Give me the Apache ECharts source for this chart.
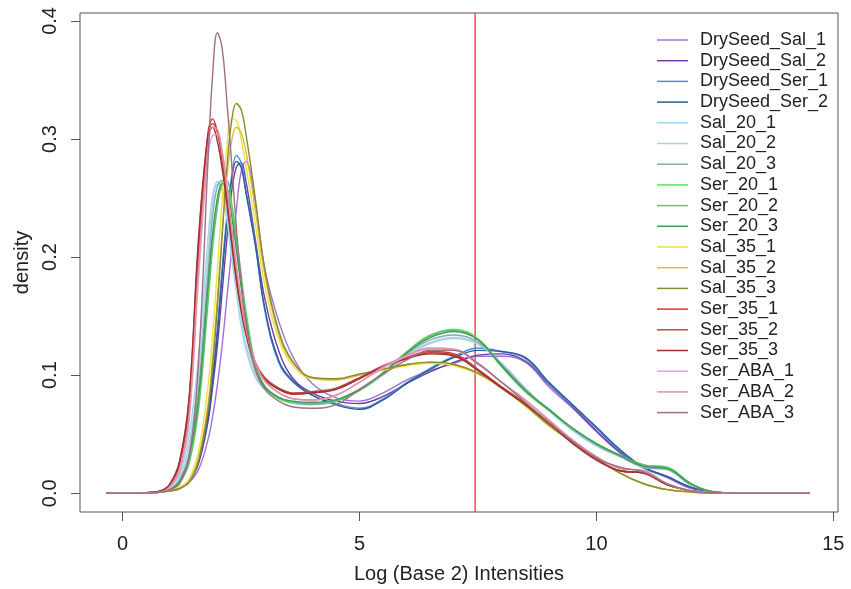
<!DOCTYPE html>
<html>
<head>
<meta charset="utf-8">
<script src="https://cdn.jsdelivr.net/npm/echarts@6/dist/echarts.min.js"></script>
<style>html,body{margin:0;padding:0;background:#fff}#c{width:851px;height:589px}</style>
</head>
<body>
<div id="c"></div>
<script>
// x positions (Log2 intensity) shared by every density curve
const xs = [-0.35,0.5,0.8,1.0,1.2,1.4,1.6,1.8,1.9,2.0,2.1,2.2,2.3,2.4,2.5,2.6,2.8,3.0,3.3,3.6,4.0,4.5,5.0,5.5,6.0,6.5,7.0,7.5,8.0,8.5,9.0,9.5,10.0,10.5,11.0,11.5,12.0,12.5,13.0,14.5];

const seriesNames = ["DrySeed_Sal_1","DrySeed_Sal_2","DrySeed_Ser_1","DrySeed_Ser_2","Sal_20_1","Sal_20_2","Sal_20_3","Ser_20_1","Ser_20_2","Ser_20_3","Sal_35_1","Sal_35_2","Sal_35_3","Ser_35_1","Ser_35_2","Ser_35_3","Ser_ABA_1","Ser_ABA_2","Ser_ABA_3"];
const seriesColors = ["#a070d8","#6a3fa0","#4a8ee0","#2f5a9a","#9ad8f0","#b0d0e0","#8aa8b8","#5ee05e","#5ac86a","#3f9a5a","#f0e040","#d0c040","#8a8a30","#e03030","#b84848","#a03030","#e0a0e8","#e0909a","#a07080"];

const drySeedSal1 = [0,0,0.001,0.002,0.004,0.009,0.02,0.045,0.065,0.092,0.125,0.165,0.205,0.24,0.272,0.281,0.245,0.19,0.145,0.115,0.093,0.081,0.078,0.085,0.096,0.104,0.11,0.116,0.116,0.111,0.09,0.072,0.052,0.034,0.022,0.013,0.004,0.001,0,0];
const drySeedSal2 = [0,0,0.001,0.002,0.004,0.01,0.025,0.06,0.09,0.125,0.17,0.215,0.255,0.276,0.28,0.265,0.215,0.165,0.12,0.097,0.085,0.078,0.076,0.082,0.093,0.103,0.111,0.117,0.118,0.112,0.092,0.073,0.053,0.035,0.022,0.014,0.005,0.001,0,0];
const drySeedSer1 = [0,0,0.001,0.002,0.004,0.01,0.028,0.068,0.1,0.14,0.19,0.235,0.268,0.286,0.28,0.257,0.212,0.155,0.11,0.094,0.083,0.076,0.072,0.08,0.094,0.106,0.116,0.123,0.12,0.114,0.093,0.074,0.055,0.036,0.021,0.014,0.005,0.001,0,0];
const drySeedSer2 = [0,0,0.001,0.002,0.004,0.01,0.026,0.064,0.095,0.135,0.184,0.23,0.265,0.281,0.276,0.255,0.21,0.157,0.112,0.095,0.083,0.075,0.071,0.079,0.093,0.105,0.115,0.121,0.12,0.115,0.094,0.075,0.056,0.037,0.022,0.014,0.005,0.001,0,0];
const sal20_1 = [0,0.0005,0.002,0.005,0.016,0.048,0.115,0.215,0.252,0.264,0.256,0.232,0.2,0.17,0.142,0.122,0.098,0.088,0.08,0.076,0.075,0.078,0.087,0.1,0.116,0.127,0.131,0.126,0.11,0.089,0.07,0.053,0.04,0.031,0.022,0.02,0.007,0.001,0,0];
const sal20_2 = [0,0.0005,0.002,0.004,0.013,0.04,0.1,0.2,0.245,0.262,0.258,0.238,0.208,0.178,0.15,0.127,0.1,0.089,0.081,0.077,0.076,0.079,0.088,0.101,0.117,0.128,0.132,0.127,0.11,0.089,0.07,0.054,0.04,0.031,0.022,0.02,0.007,0.001,0,0];
const sal20_3 = [0,0,0.001,0.003,0.011,0.033,0.088,0.185,0.235,0.26,0.265,0.25,0.222,0.19,0.16,0.135,0.104,0.09,0.081,0.077,0.075,0.078,0.088,0.102,0.118,0.13,0.134,0.128,0.109,0.088,0.07,0.054,0.041,0.031,0.022,0.02,0.007,0.001,0,0];
const ser20_1 = [0,0,0.001,0.003,0.01,0.027,0.075,0.17,0.215,0.247,0.263,0.26,0.24,0.212,0.18,0.15,0.107,0.09,0.08,0.077,0.076,0.078,0.087,0.101,0.119,0.133,0.139,0.131,0.108,0.087,0.071,0.055,0.042,0.032,0.024,0.022,0.008,0.001,0,0];
const ser20_2 = [0,0,0.001,0.003,0.009,0.025,0.07,0.16,0.208,0.242,0.262,0.264,0.246,0.218,0.186,0.155,0.11,0.091,0.081,0.077,0.076,0.078,0.087,0.102,0.12,0.134,0.138,0.13,0.107,0.086,0.07,0.055,0.042,0.032,0.024,0.021,0.008,0.001,0,0];
const ser20_3 = [0,0,0.001,0.003,0.01,0.03,0.08,0.175,0.22,0.25,0.262,0.256,0.235,0.206,0.175,0.147,0.106,0.09,0.081,0.078,0.077,0.079,0.088,0.102,0.119,0.132,0.137,0.13,0.108,0.087,0.071,0.055,0.042,0.032,0.023,0.021,0.008,0.001,0,0];
const sal35_1 = [0,0,0.001,0.002,0.005,0.012,0.035,0.09,0.135,0.19,0.248,0.293,0.317,0.316,0.3,0.278,0.228,0.176,0.13,0.108,0.097,0.096,0.1,0.104,0.108,0.11,0.108,0.101,0.089,0.074,0.057,0.043,0.029,0.017,0.008,0.003,0.001,0,0,0];
const sal35_2 = [0,0,0.001,0.002,0.004,0.01,0.03,0.075,0.115,0.165,0.22,0.268,0.298,0.31,0.305,0.29,0.24,0.185,0.134,0.11,0.098,0.096,0.1,0.105,0.109,0.111,0.109,0.101,0.089,0.074,0.057,0.043,0.029,0.017,0.008,0.003,0.001,0,0,0];
const sal35_3 = [0,0,0.001,0.002,0.004,0.009,0.027,0.07,0.108,0.158,0.218,0.275,0.315,0.33,0.325,0.305,0.25,0.19,0.137,0.111,0.098,0.097,0.101,0.105,0.109,0.111,0.109,0.102,0.09,0.075,0.058,0.044,0.03,0.017,0.008,0.003,0.001,0,0,0];
const ser35_1 = [0,0.0005,0.002,0.008,0.026,0.078,0.21,0.305,0.317,0.306,0.282,0.25,0.215,0.183,0.157,0.137,0.11,0.097,0.088,0.084,0.085,0.088,0.097,0.107,0.114,0.119,0.117,0.104,0.09,0.076,0.06,0.043,0.029,0.019,0.017,0.007,0.002,0.0005,0,0];
const ser35_2 = [0,0.0005,0.002,0.007,0.024,0.072,0.2,0.3,0.313,0.306,0.285,0.255,0.22,0.188,0.16,0.139,0.111,0.098,0.089,0.085,0.086,0.089,0.098,0.108,0.115,0.12,0.118,0.105,0.09,0.076,0.06,0.043,0.029,0.019,0.017,0.007,0.002,0.0005,0,0];
const ser35_3 = [0,0.0005,0.002,0.008,0.027,0.08,0.215,0.303,0.31,0.298,0.275,0.245,0.212,0.18,0.155,0.135,0.109,0.096,0.088,0.084,0.085,0.088,0.097,0.107,0.114,0.118,0.116,0.104,0.089,0.075,0.059,0.042,0.028,0.019,0.017,0.007,0.002,0.0005,0,0];
const serABA_1 = [0,0,0.001,0.005,0.018,0.06,0.18,0.285,0.303,0.304,0.288,0.26,0.226,0.193,0.164,0.14,0.11,0.095,0.085,0.08,0.079,0.083,0.094,0.106,0.116,0.122,0.121,0.109,0.094,0.079,0.062,0.045,0.031,0.021,0.019,0.008,0.002,0.0005,0,0];
const serABA_2 = [0,0,0.001,0.006,0.02,0.065,0.19,0.292,0.31,0.308,0.29,0.26,0.225,0.192,0.163,0.14,0.11,0.095,0.085,0.08,0.079,0.083,0.094,0.107,0.117,0.123,0.122,0.11,0.094,0.079,0.062,0.045,0.031,0.021,0.019,0.008,0.002,0.0005,0,0];
const serABA_3 = [0,0,0.001,0.003,0.008,0.03,0.11,0.28,0.355,0.39,0.377,0.332,0.28,0.225,0.18,0.145,0.105,0.088,0.078,0.073,0.072,0.075,0.088,0.101,0.113,0.121,0.121,0.11,0.094,0.077,0.06,0.044,0.03,0.022,0.018,0.008,0.002,0.0005,0,0];

const allValues = [drySeedSal1,drySeedSal2,drySeedSer1,drySeedSer2,sal20_1,sal20_2,sal20_3,ser20_1,ser20_2,ser20_3,sal35_1,sal35_2,sal35_3,ser35_1,ser35_2,ser35_3,serABA_1,serABA_2,serABA_3];

const xTicks = [0,5,10,15];
const yTicks = [0,0.1,0.2,0.3,0.4];
const xRange = [-0.9, 15.1];
const yRange = [-0.0159, 0.4067];
const cutoffX = 7.44;

const FONT = "'Liberation Sans', Arial, Helvetica, sans-serif";
const chart = echarts.init(document.getElementById('c'), null, {renderer:'canvas'});

const series = seriesNames.map((name, i) => ({
  name: name,
  type: 'line',
  data: xs.map((x, k) => [x, allValues[i][k]]),
  smooth: 0.4,
  symbol: 'none',
  color: seriesColors[i],
  lineStyle: {width: 1.4, color: seriesColors[i]},
  silent: true,
  z: 2
}));
series.push({
  name: 'cutoff',
  type: 'line',
  data: [[cutoffX, yRange[0]], [cutoffX, yRange[1]]],
  symbol: 'none',
  lineStyle: {width: 1.2, color: '#e8231f'},
  color: '#e8231f',
  silent: true,
  z: 1
});

chart.setOption({
  animation: false,
  backgroundColor: '#ffffff',
  textStyle: {fontFamily: FONT},
  grid: {left: 80, right: 13, top: 13, bottom: 71, show: true, borderColor: '#555', borderWidth: 1, backgroundColor: 'transparent'},
  legend: {
    orient: 'vertical',
    left: 652, top: 25,
    icon: 'rect',
    itemWidth: 31, itemHeight: 1.5, itemGap: 0.7,
    selectedMode: false,
    data: seriesNames,
    textStyle: {fontFamily: FONT, fontSize: 18, color: '#222', lineHeight: 20, padding: [0,0,0,7]}
  },
  xAxis: {
    type: 'value', min: xRange[0], max: xRange[1],
    axisLine: {show: false, onZero: false},
    splitLine: {show: false},
    axisTick: {show: true, length: 9, lineStyle: {color: '#555'}, customValues: xTicks},
    axisLabel: {fontFamily: FONT, fontSize: 20, color: '#222', margin: 22, customValues: xTicks},
    name: 'Log (Base 2) Intensities', nameLocation: 'middle', nameGap: 52,
    nameTextStyle: {fontFamily: FONT, fontSize: 20, color: '#222'}
  },
  yAxis: {
    type: 'value', min: yRange[0], max: yRange[1],
    axisLine: {show: false, onZero: false},
    splitLine: {show: false},
    axisTick: {show: true, length: 9, lineStyle: {color: '#555'}, customValues: yTicks},
    axisLabel: {fontFamily: FONT, fontSize: 20, color: '#222', margin: 20, rotate: 90, customValues: yTicks, formatter: v => v.toFixed(1)},
    name: 'density', nameLocation: 'middle', nameGap: 47,
    nameTextStyle: {fontFamily: FONT, fontSize: 20, color: '#222'}
  },
  series: series
});
</script>
</body>
</html>
